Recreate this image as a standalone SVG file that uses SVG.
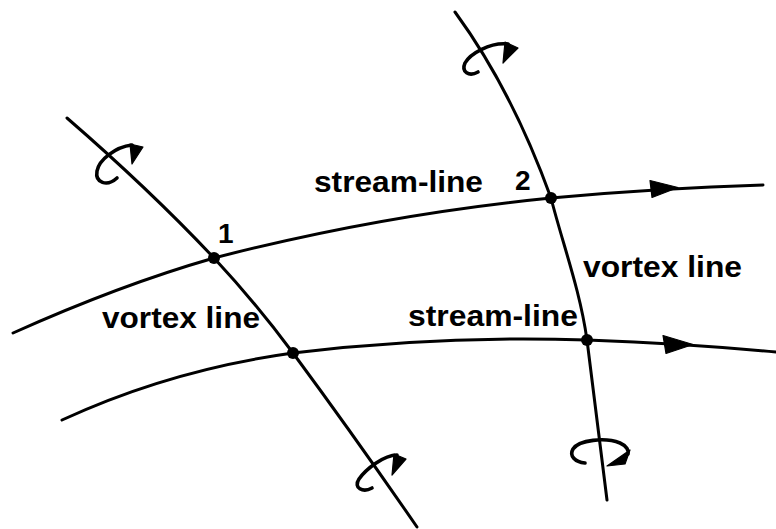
<svg xmlns="http://www.w3.org/2000/svg" width="776" height="529" viewBox="0 0 776 529">
<style>
.ln{fill:none;stroke:#000;stroke-width:3;stroke-linecap:round;stroke-linejoin:round}
.curl{fill:none;stroke:#000;stroke-width:3.6;stroke-linecap:round}
.ah{fill:#000;stroke:#000;stroke-width:1.2;stroke-linejoin:round}
.lbl{font-family:"Liberation Sans",Arial,sans-serif;font-weight:bold;font-size:30px;fill:#000}
.num{font-family:"Liberation Sans",Arial,sans-serif;font-weight:bold;font-size:28px;fill:#000}
</style>
<rect width="776" height="529" fill="#fff"/>
<g id="connectors">
  <path id="stream-line-upper" class="ln" d="M13,333 Q120,285 214,258 Q380,215 551,198 Q660,188 763,185"/>
  <polygon class="ah" points="678,187.5 650,180.5 652,197.5"/>
  <path id="stream-line-lower" class="ln" d="M62,420 Q170,370 293,353 Q440,335 587,340 Q690,344 776,352"/>
  <polygon class="ah" points="693,344.5 663,335.5 666,353.5"/>
  <path id="vortex-line-1" class="ln" d="M67,118 Q150,190 214,258 Q255,302 293,353 Q355,437 417,527"/>
  <path id="vortex-line-2" class="ln" d="M455,12 Q512,90 551,198 C563,245 580,290 587,340 L607,500"/>
</g>
<g id="curl-1">
  <path class="curl" d="M117,178 C107,187 95,183 97,171 C99,160 115,147 132,145"/>
  <polygon class="ah" points="130,144 143,147 132,164"/>
</g>
<g id="curl-2">
  <path class="curl" d="M478,72 C469,77 461,72 465,63 C470,54 490,42 508,44"/>
  <polygon class="ah" points="505,42 518,48 503,63"/>
</g>
<g id="curl-3">
  <path class="curl" d="M372,488 C363,493 353,488 359,479 C366,469 384,455 397,455"/>
  <polygon class="ah" points="394,454 406,459 392,475"/>
</g>
<g id="curl-4">
  <path class="curl" d="M585,463 C575,462 569,456 573,449 C579,440 605,437 620,443 C627,446 629,451 628,454"/>
  <polygon class="ah" points="630,450 625,464 607,466"/>
</g>
<g id="point-1">
  <circle cx="214" cy="258" r="6"/>
  <text class="num" x="218" y="243">1</text>
</g>
<g id="point-2">
  <circle cx="551" cy="198" r="6"/>
  <text class="num" x="515" y="190">2</text>
</g>
<g id="point-3">
  <circle cx="293" cy="353" r="6"/>
</g>
<g id="point-4">
  <circle cx="587" cy="340" r="6"/>
</g>
<g id="labels">
  <text class="lbl" x="314" y="192" textLength="169" lengthAdjust="spacingAndGlyphs">stream-line</text>
  <text class="lbl" x="102" y="328" textLength="158" lengthAdjust="spacingAndGlyphs">vortex line</text>
  <text class="lbl" x="408" y="326" textLength="170" lengthAdjust="spacingAndGlyphs">stream-line</text>
  <text class="lbl" x="583" y="277" textLength="159" lengthAdjust="spacingAndGlyphs">vortex line</text>
</g>
</svg>
